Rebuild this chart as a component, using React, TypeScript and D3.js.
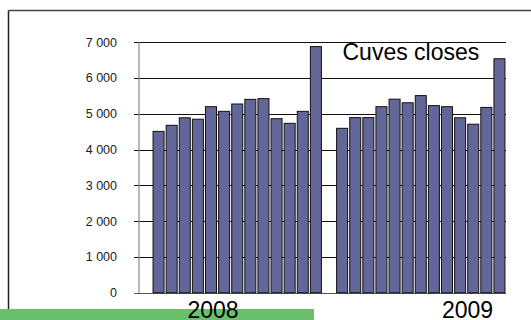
import React from 'react';
import * as d3 from 'd3';

// monthly values + total column for each year
const years = ['2008', '2009'];
const values2008 = [4510, 4680, 4890, 4850, 5200, 5070, 5275, 5405, 5425, 4865, 4735, 5070, 6880];
const values2009 = [4595, 4895, 4895, 5200, 5410, 5310, 5510, 5230, 5200, 4890, 4710, 5180, 6540];
const yTicks = [0, 1000, 2000, 3000, 4000, 5000, 6000, 7000];
const title = 'Cuves closes';

const W = 531;
const H = 320;
const font = '"Liberation Sans", Arial, sans-serif';

// one empty slot between the two years
const slots: (number | null)[] = [...values2008, null, ...values2009];

const App: React.FC = () => {
  const x = d3.scaleBand<number>()
    .domain(d3.range(slots.length))
    .range([152, 506])
    .paddingInner(0.16)
    .paddingOuter(0.08);

  const y = d3.scaleLinear().domain([0, 7000]).range([292.7, 42.3]);
  const fmt = (v: number) => d3.format(',')(v).replace(',', ' ');

  const axisX = 139;
  const gridRight = 506;

  return (
    <div style={{ position: 'absolute', left: 0, top: 0 }}>
      <svg width={W} height={H} style={{ display: 'block', background: '#fff' }}>
        {/* slide frame */}
        <line x1={8.5} x2={W} y1={10.5} y2={10.5} stroke="#444" strokeWidth={1.5} />
        <line x1={8.5} x2={8.5} y1={10.5} y2={H} stroke="#222" strokeWidth={1.5} />

        {/* green strip at bottom */}
        <rect x={0} y={309} width={314} height={H - 309} fill="#6abf6b" />

        {/* gridlines + ticks */}
        {yTicks.map(t => (
          <g key={t}>
            <line x1={134} x2={gridRight} y1={Math.round(y(t)) + 0.5} y2={Math.round(y(t)) + 0.5}
              stroke={t === 0 ? '#555' : '#111'} strokeWidth={1} />
            <text x={117} y={y(t)} dy="0.35em" textAnchor="end" fontFamily={font}
              fontSize={12.5} fill="#222">{fmt(t)}</text>
          </g>
        ))}
        <line x1={axisX} x2={axisX} y1={y(7000)} y2={y(0)} stroke="#888" strokeWidth={1.2} />

        {/* bars */}
        {slots.map((v, i) => v == null ? null : (
          <rect key={i} x={x(i)!} y={y(v)} width={x.bandwidth()} height={y(0) - y(v)}
            fill="#636699" stroke="#111" strokeWidth={1} />
        ))}

        {/* labels */}
        <text x={342.5} y={60} fontFamily={font} fontSize={23} fill="#000">{title}</text>
        <text x={213} y={318} textAnchor="middle" fontFamily={font} fontSize={23} fill="#000">{years[0]}</text>
        <text x={467.5} y={318} textAnchor="middle" fontFamily={font} fontSize={23} fill="#000">{years[1]}</text>
      </svg>
    </div>
  );
};

export default App;
